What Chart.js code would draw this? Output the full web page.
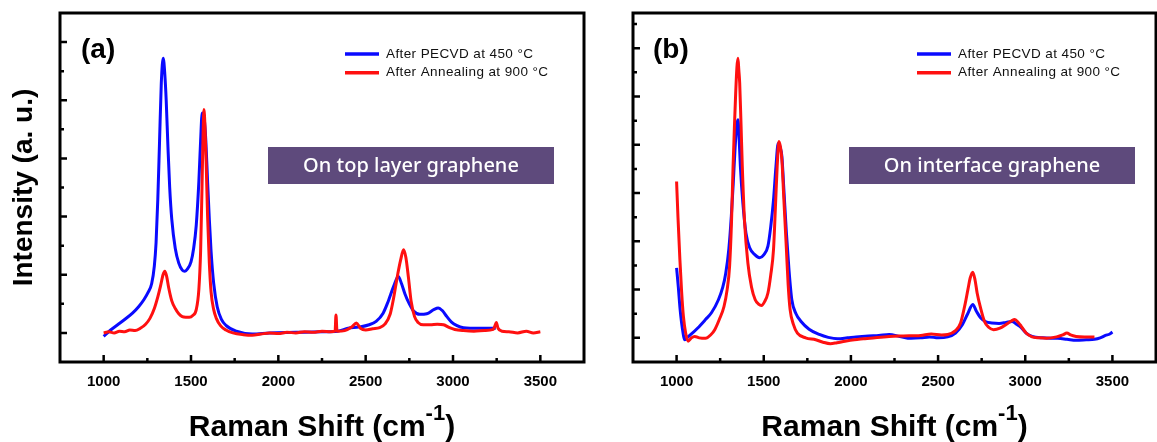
<!DOCTYPE html>
<html>
<head>
<meta charset="utf-8">
<script src="https://cdn.jsdelivr.net/npm/chart.js@4"></script>
<style>
  html, body { margin: 0; padding: 0; background: #fff; }
  canvas { position: absolute; top: 0; }
  #panelA { left: 0; }
  #panelB { left: 600px; }
</style>
</head>
<body>
<canvas id="panelA" width="600" height="442"></canvas>
<canvas id="panelB" width="557" height="442"></canvas>
<script>
// Labels
const seriesNames = ["After PECVD at 450 \u00b0C", "After Annealing at 900 \u00b0C"];
const panelTags = ["(a)", "(b)"];
const boxTexts = ["On top layer graphene", "On interface graphene"];
const yTitle = "Intensity (a. u.)";
const xTitle = "Raman Shift (cm";
const xTitleSup = "-1";
const xTitleEnd = ")";

// Ticks
const xMajor = [1000, 1500, 2000, 2500, 3000, 3500];
const xMinor = [1250, 1750, 2250, 2750, 3250];
const yMajorA = [0, 1, 2, 3, 4, 5];
const yMinorA = [0.5, 1.5, 2.5, 3.5, 4.5];
const yMajorB = [0, 1, 2, 3, 4, 5, 6];
const yMinorB = [0.5, 1.5, 2.5, 3.5, 4.5, 5.5, 6.5];

// (a) top layer - PECVD
const aPecvdX = [1000, 1040, 1080, 1120, 1165, 1200, 1230, 1255, 1275, 1290, 1300, 1310, 1320, 1330, 1341, 1350, 1358, 1368, 1378, 1390, 1410, 1430, 1450, 1465, 1480, 1500, 1515, 1530, 1545, 1555, 1564, 1575, 1585, 1595, 1605, 1615, 1630, 1650, 1675, 1700, 1760, 1850, 1950, 2100, 2250, 2340, 2400, 2460, 2520, 2560, 2600, 2630, 2660, 2687, 2705, 2725, 2750, 2776, 2810, 2850, 2890, 2915, 2940, 2965, 2990, 3020, 3060, 3150, 3200, 3245];
const aPecvdY = [-0.06, 0.05, 0.14, 0.23, 0.34, 0.45, 0.57, 0.70, 0.85, 1.15, 1.55, 2.30, 3.30, 4.30, 4.72, 4.45, 4.00, 3.20, 2.50, 1.95, 1.45, 1.20, 1.08, 1.06, 1.10, 1.22, 1.45, 1.85, 2.60, 3.30, 3.78, 3.70, 3.30, 2.60, 1.95, 1.40, 0.85, 0.45, 0.23, 0.13, 0.03, -0.02, 0.00, 0.01, 0.02, 0.03, 0.08, 0.10, 0.14, 0.20, 0.34, 0.55, 0.80, 0.97, 0.85, 0.67, 0.50, 0.37, 0.32, 0.33, 0.40, 0.43, 0.38, 0.28, 0.19, 0.13, 0.09, 0.08, 0.08, 0.08];

// (a) top layer - annealed
const aAnnealX = [1000, 1030, 1060, 1090, 1120, 1150, 1180, 1210, 1240, 1265, 1290, 1310, 1325, 1340, 1350, 1360, 1372, 1390, 1410, 1430, 1450, 1470, 1490, 1510, 1530, 1545, 1555, 1563, 1569, 1574, 1580, 1587, 1595, 1605, 1615, 1630, 1645, 1670, 1700, 1740, 1800, 1850, 1900, 1950, 2000, 2050, 2100, 2150, 2200, 2250, 2300, 2325, 2330, 2336, 2380, 2420, 2447, 2470, 2500, 2540, 2580, 2610, 2640, 2660, 2680, 2700, 2717, 2730, 2745, 2760, 2780, 2800, 2830, 2870, 2910, 2946, 2980, 3010, 3060, 3120, 3180, 3230, 3240, 3248, 3258, 3280, 3320, 3370, 3420, 3460, 3500];
const aAnnealY = [0.00, 0.02, 0.00, 0.03, 0.02, 0.05, 0.04, 0.08, 0.15, 0.25, 0.42, 0.62, 0.80, 1.00, 1.06, 0.98, 0.78, 0.55, 0.42, 0.33, 0.28, 0.27, 0.27, 0.30, 0.40, 0.75, 1.40, 2.50, 3.40, 3.84, 3.55, 2.90, 2.00, 1.20, 0.70, 0.40, 0.25, 0.12, 0.05, 0.00, -0.03, -0.04, -0.02, 0.00, -0.01, 0.01, 0.00, 0.02, 0.01, 0.03, 0.02, 0.03, 0.31, 0.03, 0.04, 0.10, 0.17, 0.08, 0.05, 0.07, 0.09, 0.15, 0.32, 0.60, 0.95, 1.25, 1.43, 1.30, 0.95, 0.55, 0.28, 0.18, 0.14, 0.14, 0.15, 0.14, 0.09, 0.06, 0.04, 0.03, 0.04, 0.06, 0.12, 0.18, 0.08, 0.03, 0.02, 0.00, 0.03, 0.00, 0.02];

// (b) interface - PECVD
const bPecvdX = [1000, 1010, 1020, 1033, 1047, 1065, 1082, 1120, 1166, 1200, 1240, 1265, 1282, 1300, 1314, 1325, 1335, 1345, 1352, 1358, 1366, 1380, 1398, 1420, 1450, 1476, 1500, 1524, 1540, 1556, 1570, 1583, 1594, 1604, 1615, 1630, 1645, 1661, 1685, 1714, 1760, 1819, 1870, 1924, 1980, 2029, 2100, 2160, 2219, 2280, 2345, 2400, 2450, 2500, 2555, 2600, 2640, 2670, 2699, 2720, 2745, 2775, 2808, 2850, 2890, 2924, 2950, 2977, 3005, 3039, 3100, 3187, 3240, 3292, 3350, 3397, 3430, 3460, 3485, 3500];
const bPecvdY = [1.45, 1.05, 0.60, 0.20, -0.04, 0.02, 0.07, 0.20, 0.38, 0.52, 0.79, 1.05, 1.34, 1.85, 2.52, 3.20, 3.90, 4.40, 4.52, 4.20, 3.55, 2.80, 2.17, 1.86, 1.72, 1.66, 1.72, 1.90, 2.30, 2.86, 3.55, 4.03, 3.95, 3.76, 3.10, 2.17, 1.40, 0.79, 0.50, 0.34, 0.18, 0.07, 0.01, -0.02, 0.00, 0.02, 0.04, 0.05, 0.07, 0.03, -0.01, 0.00, 0.02, 0.00, 0.02, 0.10, 0.28, 0.50, 0.69, 0.55, 0.41, 0.33, 0.31, 0.30, 0.32, 0.34, 0.28, 0.21, 0.10, 0.03, 0.00, -0.01, -0.03, -0.05, -0.04, -0.03, 0.00, 0.05, 0.08, 0.12];

// (b) interface - annealed
const bAnnealX = [1000, 1008, 1019, 1029, 1039, 1052, 1066, 1085, 1104, 1130, 1166, 1195, 1219, 1245, 1272, 1290, 1304, 1315, 1324, 1332, 1339, 1346, 1352, 1357, 1362, 1369, 1377, 1390, 1409, 1430, 1451, 1470, 1487, 1505, 1524, 1540, 1556, 1568, 1577, 1587, 1596, 1604, 1615, 1630, 1640, 1651, 1670, 1693, 1740, 1798, 1840, 1882, 1920, 1966, 2020, 2071, 2150, 2219, 2300, 2400, 2461, 2520, 2555, 2600, 2629, 2655, 2671, 2685, 2699, 2712, 2724, 2745, 2766, 2790, 2818, 2855, 2892, 2920, 2940, 2960, 2977, 3005, 3039, 3080, 3123, 3180, 3215, 3239, 3260, 3292, 3340, 3397];
const bAnnealY = [3.24, 2.50, 1.62, 0.95, 0.45, 0.10, -0.07, 0.00, 0.03, 0.00, -0.01, 0.06, 0.17, 0.38, 0.65, 1.00, 1.48, 2.40, 3.55, 4.40, 5.07, 5.60, 5.79, 5.55, 5.28, 4.50, 3.55, 2.40, 1.55, 1.05, 0.79, 0.70, 0.67, 0.75, 0.93, 1.30, 1.83, 2.80, 3.55, 4.07, 3.95, 3.69, 2.90, 1.83, 1.10, 0.59, 0.28, 0.10, 0.00, -0.04, -0.09, -0.12, -0.10, -0.07, -0.04, -0.02, 0.01, 0.03, 0.04, 0.05, 0.08, 0.06, 0.07, 0.15, 0.31, 0.70, 1.00, 1.25, 1.36, 1.20, 0.93, 0.60, 0.34, 0.22, 0.17, 0.20, 0.28, 0.35, 0.38, 0.32, 0.24, 0.10, 0.02, 0.00, -0.01, 0.02, 0.06, 0.10, 0.06, 0.03, 0.02, 0.02];

const blue = "#0a0aff";
const red = "#ff1010";
const boxColor = "#5e4a7c";
const font = "'Liberation Sans', Arial, sans-serif";

function pairs(xs, ys) {
	return xs.map((x, i) => ({ x: x, y: ys[i] }));
}

// frame, inward ticks, legend, labels and x title
const decor = {
	id: "decor",
	afterDraw(chart, args, o) {
		const ctx = chart.ctx;
		const a = chart.chartArea;
		const sx = chart.scales.x;
		const sy = chart.scales.y;
		ctx.save();
		ctx.strokeStyle = "#000";
		ctx.lineWidth = 2.5;
		ctx.beginPath();
		xMajor.concat(xMinor).forEach(v => {
			const px = sx.getPixelForValue(v);
			const len = xMajor.includes(v) ? 7 : 4;
			ctx.moveTo(px, a.bottom);
			ctx.lineTo(px, a.bottom - len);
		});
		o.yMajor.concat(o.yMinor).forEach(v => {
			const py = sy.getPixelForValue(v);
			const len = o.yMajor.includes(v) ? 7 : 4;
			ctx.moveTo(a.left, py);
			ctx.lineTo(a.left + len, py);
		});
		ctx.stroke();

		ctx.lineWidth = 3;
		ctx.strokeRect(a.left, a.top, a.right - a.left, a.bottom - a.top);

		// legend
		[0, 1].forEach(i => {
			const ds = chart.data.datasets[i];
			const y = o.legendY + i * 18.7;
			ctx.strokeStyle = ds.borderColor;
			ctx.lineWidth = 3.5;
			ctx.beginPath();
			ctx.moveTo(o.legendX, y);
			ctx.lineTo(o.legendX + 34, y);
			ctx.stroke();
			ctx.fillStyle = "#111";
			ctx.font = "13.5px " + font;
			ctx.letterSpacing = "0.4px";
			ctx.textBaseline = "middle";
			ctx.textAlign = "left";
			ctx.fillText(ds.label, o.legendX + 41, y);
		});
		ctx.letterSpacing = "0px";

		// panel tag
		ctx.fillStyle = "#000";
		ctx.font = "bold 28px " + font;
		ctx.textBaseline = "middle";
		ctx.fillText(o.tag, o.tagX, 50);

		// purple box
		ctx.fillStyle = boxColor;
		ctx.fillRect(o.boxX, 147, 286, 37);
		ctx.fillStyle = "#fff";
		ctx.font = "500 20px 'Noto Sans', sans-serif";
		ctx.textAlign = "center";
		ctx.fillText(o.box, o.boxX + 143, 166);

		// x title with superscript
		const cx = (a.left + a.right) / 2;
		const mainFont = "bold 30px " + font;
		const supFont = "bold 22px " + font;
		ctx.font = mainFont;
		const w1 = ctx.measureText(xTitle).width;
		const w3 = ctx.measureText(xTitleEnd).width;
		ctx.font = supFont;
		const w2 = ctx.measureText(xTitleSup).width;
		const x0 = cx - (w1 + w2 + w3) / 2;
		ctx.fillStyle = "#000";
		ctx.textAlign = "left";
		ctx.textBaseline = "alphabetic";
		ctx.font = mainFont;
		ctx.fillText(xTitle, x0, 436);
		ctx.font = supFont;
		ctx.fillText(xTitleSup, x0 + w1, 420);
		ctx.font = mainFont;
		ctx.fillText(xTitleEnd, x0 + w1 + w2, 436);
		ctx.restore();
	}
};

function makeChart(id, pecvd, anneal, cfg) {
	new Chart(document.getElementById(id), {
		type: "line",
		data: {
			datasets: [
				{ label: seriesNames[0], data: pecvd, borderColor: blue, borderWidth: 3, pointRadius: 0, cubicInterpolationMode: "monotone", order: 1 },
				{ label: seriesNames[1], data: anneal, borderColor: red, borderWidth: 3, pointRadius: 0, cubicInterpolationMode: "monotone", order: 0 },
			],
		},
		plugins: [decor],
		options: {
			responsive: false,
			animation: false,
			layout: { padding: cfg.padding },
			plugins: {
				legend: { display: false },
				tooltip: { enabled: false },
				decor: cfg.decor,
			},
			scales: {
				x: {
					type: "linear",
					min: 750,
					max: 3750,
					grid: { display: false },
					border: { display: false },
					afterBuildTicks: s => { s.ticks = xMajor.map(v => ({ value: v })); },
					afterFit: s => { s.height = 80; },
					ticks: {
						color: "#000",
						padding: 3,
						font: { family: font, size: 15, weight: "bold" },
						callback: v => String(v),
					},
				},
				y: {
					type: "linear",
					min: cfg.yMin,
					max: cfg.yMax,
					display: cfg.yTitle,
					grid: { display: false },
					border: { display: false },
					ticks: { display: false },
					afterFit: s => { s.width = cfg.yTitle ? 60 : 0; },
					title: {
						display: cfg.yTitle,
						text: yTitle,
						color: "#000",
						padding: { top: 7, bottom: 0 },
						font: { family: font, size: 28, weight: "bold" },
					},
				},
			},
		},
	});
}

makeChart("panelA", pairs(aPecvdX, aPecvdY), pairs(aAnnealX, aAnnealY), {
	padding: { top: 13, left: 0, right: 16, bottom: 0 },
	yMin: -0.5, yMax: 5.5, yTitle: true,
	decor: { yMajor: yMajorA, yMinor: yMinorA, legendX: 345, legendY: 54, tag: panelTags[0], tagX: 81, boxX: 268, box: boxTexts[0] },
});

makeChart("panelB", pairs(bPecvdX, bPecvdY), pairs(bAnnealX, bAnnealY), {
	padding: { top: 13, left: 33, right: 1, bottom: 0 },
	yMin: -0.5, yMax: 6.73, yTitle: false,
	decor: { yMajor: yMajorB, yMinor: yMinorB, legendX: 317, legendY: 54, tag: panelTags[1], tagX: 53, boxX: 249, box: boxTexts[1] },
});
</script>
</body>
</html>
